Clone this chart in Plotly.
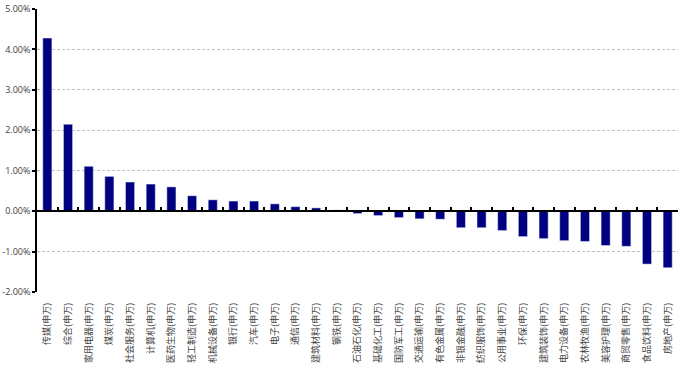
import plotly.graph_objects as go

categories = ["传媒(申万)", "综合(申万)", "家用电器(申万)", "煤炭(申万)", "社会服务(申万)", "计算机(申万)",
              "医药生物(申万)", "轻工制造(申万)", "机械设备(申万)", "银行(申万)", "汽车(申万)", "电子(申万)",
              "通信(申万)", "建筑材料(申万)", "钢铁(申万)", "石油石化(申万)", "基础化工(申万)", "国防军工(申万)",
              "交通运输(申万)", "有色金属(申万)", "非银金融(申万)", "纺织服饰(申万)", "公用事业(申万)", "环保(申万)",
              "建筑装饰(申万)", "电力设备(申万)", "农林牧渔(申万)", "美容护理(申万)", "商贸零售(申万)",
              "食品饮料(申万)", "房地产(申万)"]
values = [4.28, 2.15, 1.11, 0.86, 0.72, 0.67, 0.60, 0.38, 0.28, 0.25, 0.25, 0.18, 0.11, 0.08, 0.03,
          -0.06, -0.11, -0.16, -0.19, -0.20, -0.41, -0.41, -0.48, -0.63, -0.68, -0.73, -0.75, -0.85,
          -0.87, -1.31, -1.40]
y_ticks = [-2, -1, 0, 1, 2, 3, 4, 5]
y_tick_labels = ["-2.00%", "-1.00%", "0.00%", "1.00%", "2.00%", "3.00%", "4.00%", "5.00%"]

ymin, ymax = -2, 5

fig = go.Figure()
fig.add_trace(go.Bar(x=categories, y=values, marker=dict(color="#000080", line=dict(width=0)),
                     hoverinfo="x+y"))
fig.add_trace(go.Bar(x=categories, y=values, xaxis="x2", marker=dict(color="rgba(0,0,0,0)"),
                     hoverinfo="skip", showlegend=False))

fig.update_layout(
    width=680, height=374,
    margin=dict(l=35, r=2, t=7, b=82),
    paper_bgcolor="white", plot_bgcolor="white",
    showlegend=False,
    bargap=0.56,
    font=dict(family="Noto Sans CJK SC, DejaVu Sans, sans-serif", size=9, color="#404040"),
    xaxis=dict(type="category", tickangle=-90, showline=False, ticks="", showgrid=False,
               tickfont=dict(size=9, color="#404040"), ticklabelstandoff=8),
    xaxis2=dict(type="category", overlaying="x", matches="x", anchor="free",
                position=(0 - ymin) / (ymax - ymin), showline=True, linecolor="black", linewidth=1.5,
                ticks="inside", ticklen=3, tickwidth=1.5, tickcolor="black", tickson="boundaries",
                showticklabels=False, showgrid=False),
    yaxis=dict(range=[ymin, ymax], tickvals=y_ticks, ticktext=y_tick_labels,
               showline=True, linecolor="black", linewidth=1.5, ticks="outside", ticklen=3,
               tickwidth=1.5, tickcolor="black",
               showgrid=True, gridcolor="#c0c0c0", griddash="3px,2px", gridwidth=1,
               zeroline=False, tickfont=dict(size=9, color="#404040", family="Open Sans, DejaVu Sans, sans-serif")),
)

fig.write_html("out.html")
